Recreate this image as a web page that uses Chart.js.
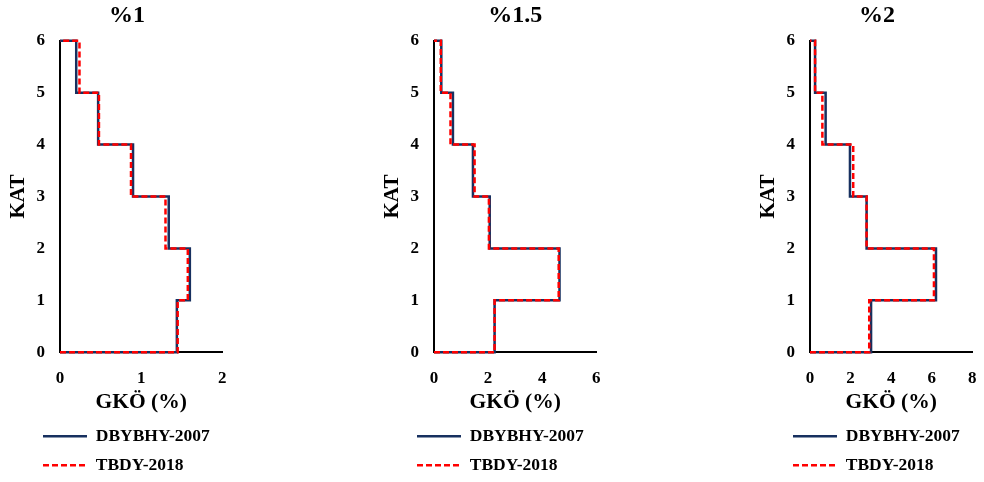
<!DOCTYPE html>
<html>
<head>
<meta charset="utf-8">
<script src="https://cdn.jsdelivr.net/npm/chart.js@4.4.0/dist/chart.umd.min.js"></script>
<style>
  html, body { margin: 0; padding: 0; background: #fff; overflow: hidden; }
  #wrap { position: relative; width: 984px; height: 482px; }
  canvas { position: absolute; top: 0; }
</style>
</head>
<body>
<div id="wrap">
  <canvas id="c1" width="234" height="484" style="left:0px"></canvas>
  <canvas id="c2" width="234" height="484" style="left:374px"></canvas>
  <canvas id="c3" width="234" height="484" style="left:750px"></canvas>
</div>
<script>
// story drift per floor (KAT 1..6)
const titles = ['%1', '%1.5', '%2'];
const xMax = [2, 6, 8];
const xStep = [1, 2, 2];

const dbybhy1 = [1.44, 1.60, 1.34, 0.90, 0.47, 0.20];
const tbdy1   = [1.45, 1.575, 1.30, 0.875, 0.48, 0.24];

const dbybhy15 = [2.24, 4.64, 2.06, 1.44, 0.70, 0.27];
const tbdy15   = [2.24, 4.61, 2.03, 1.50, 0.61, 0.25];

const dbybhy2 = [3.01, 6.21, 2.79, 1.97, 0.77, 0.25];
const tbdy2   = [2.92, 6.11, 2.79, 2.13, 0.61, 0.25];

const FONT = "'Liberation Serif', 'Times New Roman', serif";

// turn per-floor values into a step profile
function steps(d) {
  const pts = [{x: 0, y: 0}];
  d.forEach((v, i) => {
    pts.push({x: v, y: i});
    pts.push({x: v, y: i + 1});
  });
  pts.push({x: 0, y: d.length});
  return pts;
}

// default legend items lose the dash when usePointStyle is on
function legendItems(chart) {
  const items = Chart.defaults.plugins.legend.labels.generateLabels(chart);
  items.forEach(it => {
    it.lineDash = chart.data.datasets[it.datasetIndex].borderDash || [];
  });
  return items;
}

function makeChart(id, idx, a, b, titleFull) {
  return new Chart(document.getElementById(id), {
    type: 'scatter',
    data: {
      datasets: [{
        label: 'DBYBHY-2007',
        data: steps(a),
        showLine: true,
        borderColor: '#17305f',
        backgroundColor: '#17305f',
        borderWidth: 2.5,
        pointRadius: 0,
        clip: false,
        order: 2
      }, {
        label: 'TBDY-2018',
        data: steps(b),
        showLine: true,
        borderColor: '#ff0000',
        backgroundColor: '#ff0000',
        borderWidth: 2.5,
        borderDash: [6, 3],
        pointRadius: 0,
        clip: false,
        order: 1
      }]
    },
    options: {
      responsive: false,
      animation: false,
      layout: { padding: { left: 31.5, right: 11.7, top: 0, bottom: 0 } },
      plugins: {
        tooltip: { enabled: false },
        title: {
          display: true,
          text: titles[idx],
          color: '#000',
          fullSize: titleFull,
          font: { family: FONT, size: 24, weight: 'bold' },
          padding: { top: 1.6, bottom: 10.3 }
        },
        legend: {
          position: 'bottom',
          align: 'start',
          labels: {
            color: '#000',
            font: { family: FONT, size: 17.5, weight: 'bold' },
            usePointStyle: true,
            pointStyle: 'line',
            pointStyleWidth: 44,
            padding: 11.5,
            generateLabels: legendItems,
            sort: (p, q) => p.datasetIndex - q.datasetIndex
          }
        }
      },
      scales: {
        x: {
          type: 'linear',
          min: 0,
          max: xMax[idx],
          afterFit: s => {
            s.height = 63.7;
            s.paddingLeft = 0;
            s.paddingRight = 0;
          },
          grid: { display: false, drawTicks: false },
          border: { display: true, color: '#000', width: 2 },
          ticks: {
            stepSize: xStep[idx],
            color: '#000',
            padding: 16,
            font: { family: FONT, size: 17, weight: 'bold' }
          },
          title: {
            display: true,
            text: 'GKÖ (%)',
            color: '#000',
            font: { family: FONT, size: 21.5, weight: 'bold' },
            padding: { top: 0, bottom: 1 }
          }
        },
        y: {
          type: 'linear',
          min: 0,
          max: 6,
          afterFit: s => {
            s.width = 28.5;
            s.paddingTop = 0;
            s.paddingBottom = 0;
          },
          grid: { display: false, drawTicks: false },
          border: { display: true, color: '#000', width: 2 },
          ticks: {
            stepSize: 1,
            color: '#000',
            padding: 15,
            font: { family: FONT, size: 17, weight: 'bold' }
          },
          title: {
            display: true,
            text: 'KAT',
            color: '#000',
            font: { family: FONT, size: 21, weight: 'bold' },
            padding: { top: -26, bottom: 0 }
          }
        }
      }
    }
  });
}

makeChart('c1', 0, dbybhy1, tbdy1, true);
makeChart('c2', 1, dbybhy15, tbdy15, false);
makeChart('c3', 2, dbybhy2, tbdy2, true);
</script>
</body>
</html>
